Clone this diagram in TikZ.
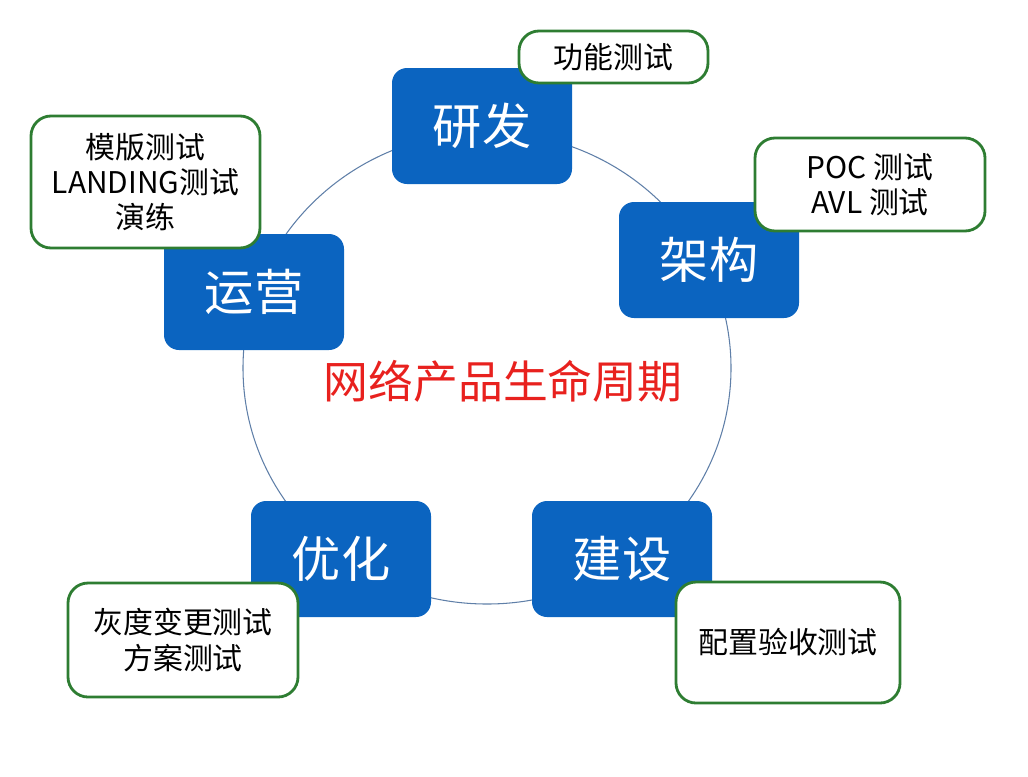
\documentclass[tikz,border=0pt]{standalone}
\usepackage{fontspec}
\setmainfont{Noto Sans CJK SC}
\definecolor{stageblue}{HTML}{0B64C0}
\definecolor{testgreen}{HTML}{2E7D32}
\definecolor{ringgray}{HTML}{5F7FA8}
\definecolor{titlered}{HTML}{E8211E}

\begin{document}
\begin{tikzpicture}[
  stage/.style={rectangle, rounded corners=0.3cm, fill=stageblue, text=white,
    minimum width=3.6cm, minimum height=2.32cm, font=\fontsize{28}{32}\selectfont},
  testbox/.style={rectangle, rounded corners=0.4cm, draw=testgreen, line width=1.6pt,
    fill=white, align=center, font=\fontsize{17}{20}\selectfont}
]
  \useasboundingbox (0,0) rectangle (20.56,-15.52);

  % life cycle ring
  \draw[ringgray, line width=0.6pt] (9.74,-7.36) ellipse [x radius=4.88, y radius=4.72];

  % title
  \node[text=titlered, font=\fontsize{25.5}{30}\selectfont] (title) at (10.06,-7.62) {网络产品生命周期};

  % stages
  \node[stage] (yanfa)   at (9.64,-2.52)  {研发};
  \node[stage] (jiagou)  at (14.18,-5.20) {架构};
  \node[stage] (jianshe) at (12.44,-11.18) {建设};
  \node[stage] (youhua)  at (6.82,-11.18) {优化};
  \node[stage] (yunying) at (5.08,-5.84)  {运营};

  % tests of each stage
  \node[testbox, minimum width=3.78cm, minimum height=1.04cm] (gongneng) at (12.27,-1.14) {功能测试};
  \node[testbox, minimum width=4.6cm, minimum height=1.86cm] (poc) at (17.40,-3.69) {POC 测试\\AVL 测试};
  \node[testbox, minimum width=4.48cm, minimum height=2.42cm] (peizhi) at (15.76,-12.85) {配置验收测试};
  \node[testbox, minimum width=4.6cm, minimum height=2.28cm] (huidu) at (3.66,-12.80) {灰度变更测试\\方案测试};
  \node[testbox, minimum width=4.58cm, minimum height=2.64cm] (muban) at (2.91,-3.64) {模版测试\\LANDING测试\\演练};

\end{tikzpicture}
\end{document}
